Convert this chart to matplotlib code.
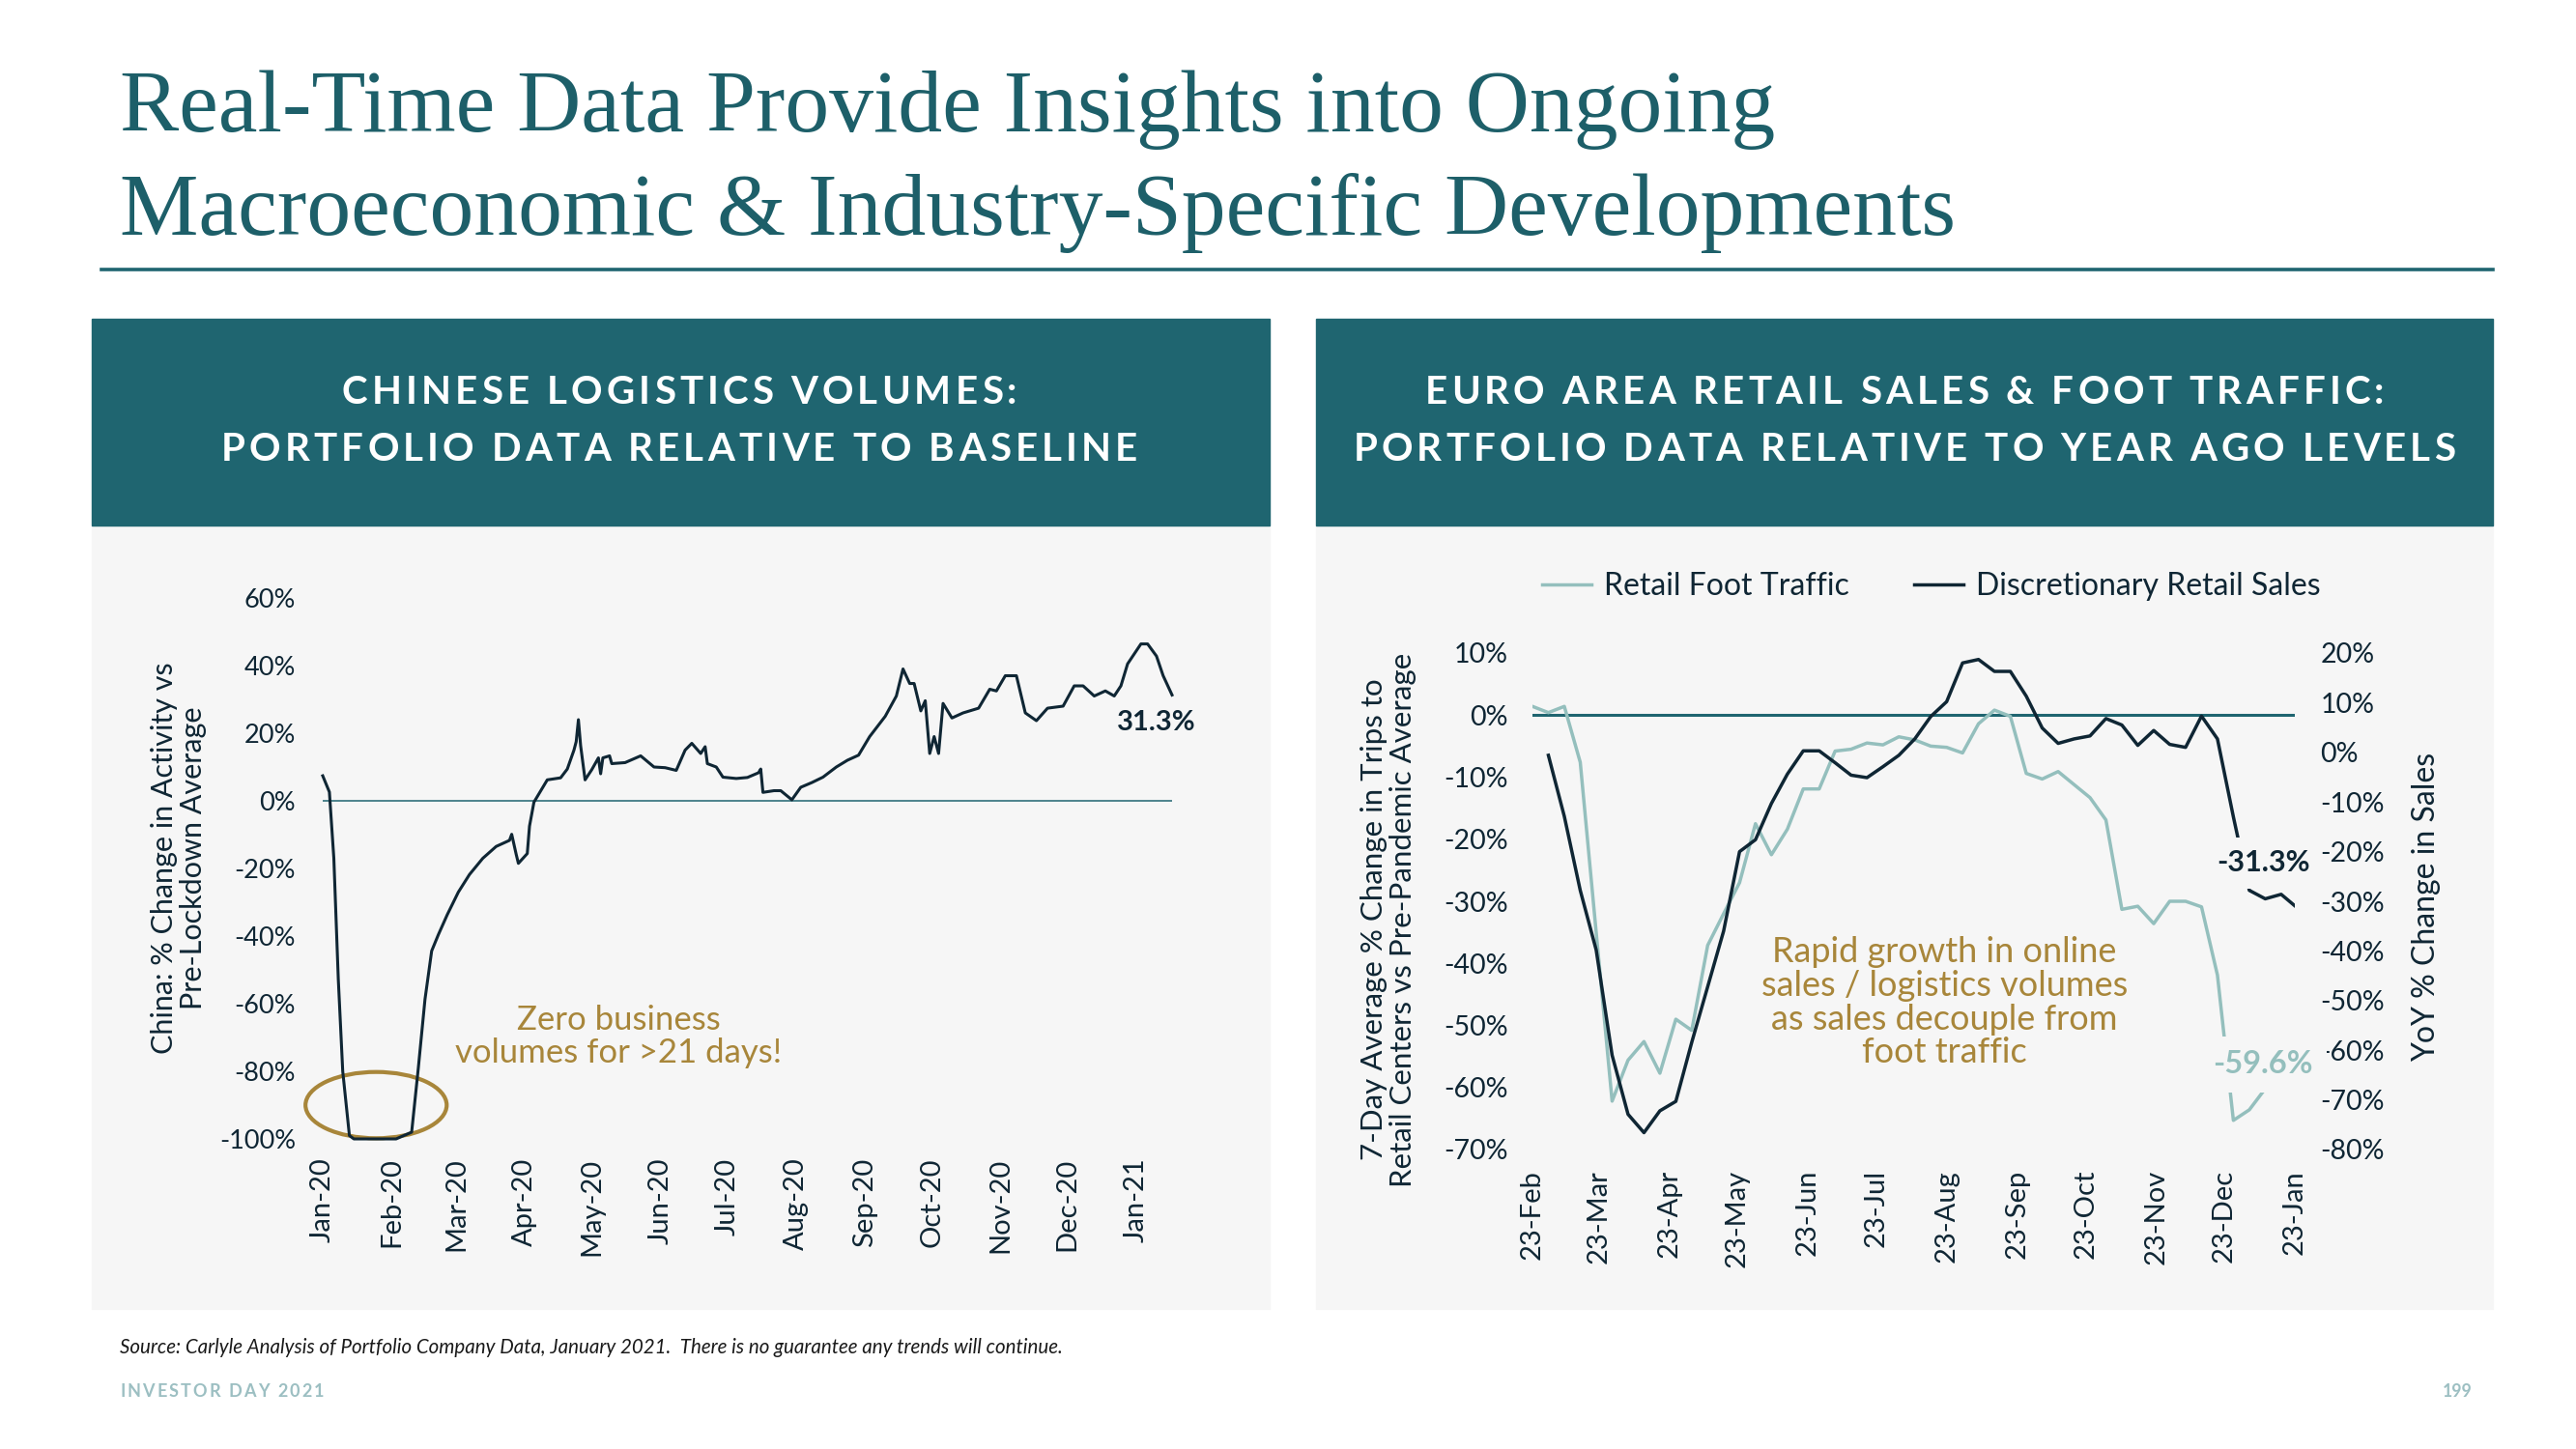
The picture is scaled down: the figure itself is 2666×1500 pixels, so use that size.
import numpy as np
import pandas as pd
import matplotlib
matplotlib.use("Agg")
import matplotlib.pyplot as plt
import matplotlib.dates as mdates
from matplotlib.patches import Rectangle, Ellipse
from matplotlib.lines import Line2D
from matplotlib.ticker import FuncFormatter

W, H, DPI = 2666, 1500, 100

TEAL = "#1f6570"
TITLE_TEAL = "#1d5f69"
NAVY = "#0f2634"
LIGHT = "#94bfbd"
GOLD = "#a8863a"
PANEL = "#f6f6f6"
FOOT = "#9cbfc2"

# chinese logistics volumes: days since 2020-01-01, % change vs pre-lockdown average
china_days = [0, 3, 5, 7, 9, 12, 14, 33, 40, 43, 46, 49, 52, 56, 61, 66, 72, 78,
              84, 85, 87, 88, 92, 93, 95, 101, 107, 110, 113, 114, 115, 116, 118,
              121, 124, 125, 126, 129, 130, 136, 143, 149, 154, 159, 163, 166, 170,
              172, 173, 177, 180, 186, 191, 196, 197, 198, 203, 206, 211, 215, 220,
              225, 231, 236, 241, 246, 253, 258, 261, 264, 266, 269, 271, 273, 275,
              277, 279, 283, 288, 295, 300, 303, 307, 312, 316, 321, 326, 333, 338,
              342, 347, 352, 356, 359, 362, 368, 371, 375, 378, 382]
china_vals = [7.4, 2.6, -17, -52.7, -80, -99, -100, -100, -98, -79, -58.7, -44.4, -39.6, -33.7, -27, -21.8, -17, -13.5,
              -11.7, -9.9, -15.8, -18.5, -15.6, -7.5, -0.4, 6.2, 6.8, 9.4, 15, 17.5, 24, 16.3, 6.2,
              9.2, 12.7, 8, 12.7, 13.3, 11, 11.3, 13.3, 10, 9.8, 9, 15, 17, 14,
              16, 11, 10, 7, 6.6, 6.9, 8.3, 9.4, 2.5, 3, 3, 0.3, 4, 5.4,
              7, 10, 12, 13.5, 19, 25, 31, 39, 34.7, 34.7, 26.6, 29.6, 14, 19,
              14, 28.8, 24.5, 26, 27.4, 33, 32.5, 37, 37, 26, 23.7, 27.4, 28, 34,
              34, 31, 32.5, 31, 34, 40.5, 46.4, 46.4, 42.8, 37, 31.3]

# euro area, weekly series
foot_start = "2020-02-23"
foot_traffic = [1.4, 0.4, 1.4, -7.6, -35, -62.2, -55.6, -52.6, -57.7, -49, -50.8, -37.1,
                -32, -27, -17.5, -22.5, -18.4, -11.9, -11.9, -5.8, -5.5, -4.5, -4.8, -3.5,
                -4, -5, -5.2, -6.1, -1.4, 0.8, -0.2, -9.4, -10.3, -9.1, -11.2, -13.3,
                -16.9, -31.3, -30.8, -33.6, -30, -30, -30.9, -41.9, -65.3, -63.6, -60.2,
                -59.6, -59.6]
sales_start = "2020-03-01"
retail_sales = [-0.6, -12.9, -27.8, -39.8, -61, -72.9, -76.6, -72.2, -70.3, -58.4, -47.2,
                -36, -20, -17.6, -10.3, -4.4, 0.3, 0.3, -2.1, -4.6, -5.1, -2.9, -0.6,
                2.7, 7.2, 10.2, 18, 18.7, 16.3, 16.3, 11.3, 4.9, 1.8, 2.7, 3.3, 6.8,
                5.5, 1.4, 4.4, 1.6, 1.0, 7.3, 2.7, -13, -27.8, -29.5, -28.6, -31.3]

plt.rcParams["font.family"] = ["Lato", "DejaVu Sans"]

fig = plt.figure(figsize=(W / DPI, H / DPI), dpi=DPI)


def fx(px):
    return px / W


def fy(py):
    return 1 - py / H


def tracked(x, y, s, track, align="center", **kw):
    # letter-spaced text, x/y in pixels, y is the baseline
    r = fig.canvas.get_renderer()

    def width(t):
        a = fig.text(0, 0, t, **kw)
        w = a.get_window_extent(r).width
        a.remove()
        return w

    total = width(s) + track * (len(s) - 1)
    x0 = x - total / 2 if align == "center" else x
    for i, ch in enumerate(s):
        if ch == " ":
            continue
        left = width(s[:i + 1]) - width(ch) + i * track
        fig.text(fx(x0 + left), fy(y), ch, ha="left", va="baseline", **kw)


pct = FuncFormatter(lambda v, p: f"{v:.0f}%")

# title + rule
fig.text(fx(124), fy(136), "Real-Time Data Provide Insights into Ongoing",
         family="Liberation Serif", fontsize=66, color=TITLE_TEAL, va="baseline")
fig.text(fx(124), fy(243), "Macroeconomic & Industry-Specific Developments",
         family="Liberation Serif", fontsize=66, color=TITLE_TEAL, va="baseline")
fig.add_artist(Line2D([fx(105), fx(2580)], [fy(279), fy(279)], color=TEAL, lw=2.6))

# panels
for x0, x1 in [(95, 1314), (1362, 2580)]:
    fig.add_artist(Rectangle((fx(x0), fy(1355)), fx(x1 - x0), (1355 - 544) / H,
                             transform=fig.transFigure, color=PANEL, zorder=0))
    fig.add_artist(Rectangle((fx(x0), fy(544)), fx(x1 - x0), (544 - 330) / H,
                             transform=fig.transFigure, color=TEAL, zorder=0))

hkw = dict(fontsize=29, fontweight="bold", color="white")
tracked(703, 418, "CHINESE LOGISTICS VOLUMES:", 4.15, **hkw)
tracked(703, 477, "PORTFOLIO DATA RELATIVE TO BASELINE", 4.15, **hkw)
tracked(1971, 418, "EURO AREA RETAIL SALES & FOOT TRAFFIC:", 4.15, **hkw)
tracked(1971, 477, "PORTFOLIO DATA RELATIVE TO YEAR AGO LEVELS", 4.15, **hkw)

# ---- left chart
t0 = pd.Timestamp("2020-01-01")
china_dates = t0 + pd.to_timedelta(china_days, unit="D")

ax1 = fig.add_axes([fx(334), fy(1179), fx(1213 - 334), (1179 - 619) / H])
ax1.set_facecolor("none")
ax1.axhline(0, color=TEAL, lw=1.1)
ax1.plot(china_dates, china_vals, color=NAVY, lw=2.2, clip_on=False)
ax1.set_xlim(t0, t0 + pd.Timedelta(days=382))
ax1.set_ylim(-100, 60)
ax1.set_yticks(range(-100, 61, 20))
ax1.yaxis.set_major_formatter(pct)
ax1.xaxis.set_major_locator(mdates.MonthLocator())
ax1.xaxis.set_major_formatter(mdates.DateFormatter("%b-%y"))
ax1.tick_params(length=0, labelsize=19.5, labelcolor=NAVY)
ax1.tick_params(axis="y", pad=20)
ax1.tick_params(axis="x", rotation=90, pad=14, labelsize=21)
for s in ax1.spines.values():
    s.set_visible(False)

circ = Ellipse((mdates.date2num(t0 + pd.Timedelta(days=24)), -90), 63.5, 19.6,
               fill=False, ec=GOLD, lw=3, clip_on=False)
ax1.add_patch(circ)
ax1.text(t0 + pd.Timedelta(days=133), -69.7, "Zero business\nvolumes for >21 days!",
         ha="center", va="center", color=GOLD, fontsize=25, linespacing=1.1)
ax1.text(t0 + pd.Timedelta(days=375), 23, "31.3%", ha="center", va="center",
         color=NAVY, fontsize=21, fontweight="bold")

fig.text(fx(185), fy(888), "China: % Change in Activity vs\nPre-Lockdown Average",
         rotation=90, ha="center", va="center", color=NAVY, fontsize=22,
         linespacing=1.12)

# ---- right chart
foot_dates = pd.date_range(foot_start, periods=len(foot_traffic), freq="7D")
sales_dates = pd.date_range(sales_start, periods=len(retail_sales), freq="7D")

ax2 = fig.add_axes([fx(1586), fy(1190), fx(2375 - 1586), (1190 - 676) / H])
ax2.set_facecolor("none")
ax3 = ax2.twinx()
ax2.axhline(0, color=TEAL, lw=2.2)
l1, = ax2.plot(foot_dates, foot_traffic, color=LIGHT, lw=2.5, label="Retail Foot Traffic")
l2, = ax3.plot(sales_dates, retail_sales, color=NAVY, lw=2.5, label="Discretionary Retail Sales")
ax2.set_xlim(pd.Timestamp("2020-02-23"), pd.Timestamp("2021-01-23"))
ax2.set_ylim(-70, 10)
ax2.set_yticks(range(-70, 11, 10))
ax3.set_ylim(-80, 20)
ax3.set_yticks(range(-80, 21, 10))
ax2.yaxis.set_major_formatter(pct)
ax3.yaxis.set_major_formatter(pct)
ax2.xaxis.set_major_locator(mdates.MonthLocator(bymonthday=23))
ax2.xaxis.set_major_formatter(mdates.DateFormatter("%d-%b"))
for a in (ax2, ax3):
    a.tick_params(length=0, labelsize=20.5, labelcolor=NAVY)
    for s in a.spines.values():
        s.set_visible(False)
ax2.tick_params(axis="y", pad=18)
ax3.tick_params(axis="y", pad=19)
ax2.tick_params(axis="x", rotation=90, pad=15, labelsize=21)

ax3.text(pd.Timestamp("2020-08-22"), -46.3,
         "Rapid growth in online\nsales / logistics volumes\nas sales decouple from\nfoot traffic",
         transform=ax2.transData, ha="center", va="center", color=GOLD, fontsize=26,
         linespacing=1.06)
ax3.text(pd.Timestamp("2021-01-09"), -23.8, "-31.3%", transform=ax2.transData,
         ha="center", va="center", color=NAVY, fontsize=22, fontweight="bold",
         bbox=dict(fc=PANEL, ec="none", pad=9), zorder=5)
ax3.text(pd.Timestamp("2021-01-09"), -56.3, "-59.6%", transform=ax2.transData,
         ha="center", va="center", color=LIGHT, fontsize=23.5, fontweight="bold",
         bbox=dict(fc=PANEL, ec="none", pad=10), zorder=5)

ax3.legend(handles=[l1, l2], loc="center", bbox_to_anchor=(fx(1999), fy(607)),
           bbox_transform=fig.transFigure, ncol=2, frameon=False, fontsize=23,
           handlelength=1.6, handletextpad=0.4, columnspacing=2.1, labelcolor=NAVY)

fig.text(fx(1437), fy(952),
         "7-Day Average % Change in Trips to\nRetail Centers vs Pre-Pandemic Average",
         rotation=90, ha="center", va="center", color=NAVY, fontsize=22.5, linespacing=1.1)
fig.text(fx(2511), fy(939), "YoY % Change in Sales", rotation=90, ha="center",
         va="center", color=NAVY, fontsize=23)

# footer
fig.text(fx(124), fy(1401),
         "Source: Carlyle Analysis of Portfolio Company Data, January 2021.  "
         "There is no guarantee any trends will continue.",
         fontsize=14.8, style="italic", color="#1a1a1a", va="baseline")
tracked(124, 1446, "INVESTOR DAY 2021", 2.1, align="left", fontsize=13,
        fontweight="bold", color=FOOT)
fig.text(fx(2559), fy(1446), "199", ha="right", va="baseline", fontsize=12.7,
         fontweight="bold", color=FOOT)

fig.savefig("out.png", dpi=DPI, facecolor="white")
